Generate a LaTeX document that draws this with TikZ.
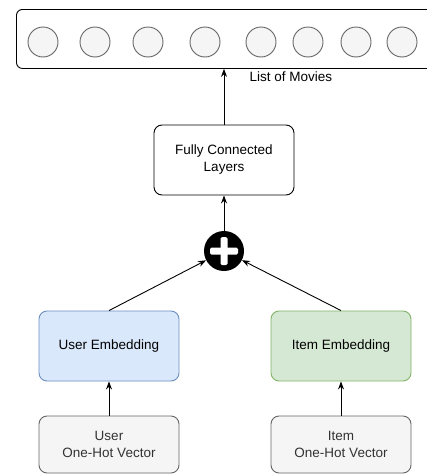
\documentclass[tikz,border=0pt]{standalone}
\usepackage{fontspec}
\setmainfont{Liberation Sans}
\usetikzlibrary{arrows.meta}
\definecolor{blfill}{HTML}{DAE8FC}
\definecolor{bldraw}{HTML}{6C8EBF}
\definecolor{grfill}{HTML}{D5E8D4}
\definecolor{grdraw}{HTML}{82B366}
\definecolor{gyfill}{HTML}{F5F5F5}
\definecolor{gydraw}{HTML}{666666}
\definecolor{gytext}{HTML}{333333}
\tikzset{
  box/.style={draw, rounded corners=8pt, line width=0.9pt, minimum width=140pt, minimum height=70pt, align=center, inner sep=0pt, font=\fontsize{13.5}{17}\selectfont},
  ubox/.style={box, fill=blfill, draw=bldraw},
  ibox/.style={box, fill=grfill, draw=grdraw},
  hbox/.style={box, fill=gyfill, draw=gydraw, text=gytext, minimum height=57pt},
  movie/.style={circle, draw=gydraw, fill=gyfill, line width=0.9pt, minimum size=30pt, inner sep=0pt},
  conn/.style={-{Stealth[length=8pt,width=6pt]}, line width=0.9pt},
}
\begin{document}
\begin{tikzpicture}[x=1pt,y=-1pt]
\useasboundingbox (0,0) rectangle (427,474);
\fill[white] (0,0) rectangle (427,474);
% top list box
\node[draw, rounded corners=6pt, line width=0.9pt, minimum width=428pt, minimum height=59pt, anchor=north west, inner sep=0pt] (list) at (16,9) {};
\foreach \i/\x in {1/43,2/95,3/148,4/205,5/261,6/308,7/356,8/402}{
  \node[movie] (c\i) at (\x,42) {};
}
\node[anchor=west, font=\fontsize{13.5}{17}\selectfont] (lbl) at (246,77) {List of Movies};
% fully connected
\node[box, fill=white] (fc) at (224,160) {Fully Connected\\Layers};
% plus
\node[circle, fill=black, minimum size=40pt, inner sep=0pt] (plus) at (224,251) {};
\fill[white, rounded corners=1.5pt] (210,247.5) rectangle (238,254.5);
\fill[white, rounded corners=1.5pt] (220.5,237) rectangle (227.5,265);
% embeddings
\node[ubox] (ue) at (109,346) {User Embedding};
\node[ibox] (ie) at (341,346) {Item Embedding};
\node[hbox] (uh) at (109,444.5) {User\\One-Hot Vector};
\node[hbox] (ih) at (341,444.5) {Item\\One-Hot Vector};
% connectors
\draw[conn] (uh) -- (ue);
\draw[conn] (ih) -- (ie);
\draw[conn] (ue.north) -- (plus);
\draw[conn] (ie.north) -- (plus);
\draw[conn] (plus) -- (fc);
\draw[conn] (fc) -- (fc.north |- list.south);
\end{tikzpicture}
\end{document}
